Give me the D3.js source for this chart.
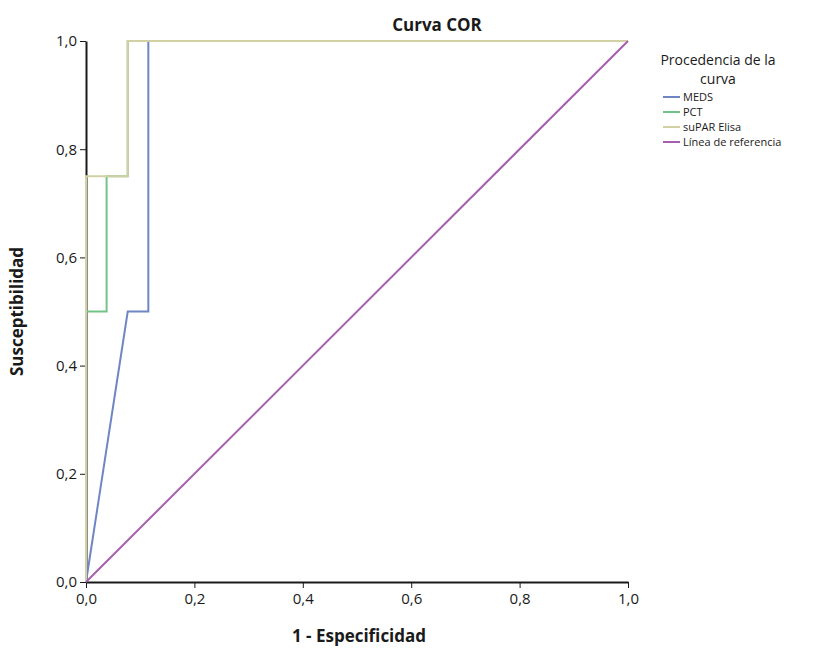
<!DOCTYPE html>
<html>
<head>
<meta charset="utf-8">
<script src="https://cdn.jsdelivr.net/npm/d3@7"></script>
<style>
  body { margin: 0; background: #fff; }
  svg text { font-family: "Open Sans", "DejaVu Sans", sans-serif; fill: #1a1a1a; }
</style>
</head>
<body>
<div id="chart"></div>
<script>
// ── Data ─────────────────────────────────────────────────────────
const seriesNames = ["MEDS", "PCT", "suPAR Elisa", "Línea de referencia"];
const medsFpr  = [0, 0.077, 0.115, 0.115, 1];
const medsTpr  = [0, 0.5,   0.5,   1,     1];
const pctFpr   = [0, 0,   0.038, 0.038, 0.077, 0.077, 1];
const pctTpr   = [0, 0.5, 0.5,   0.75,  0.75,  1,     1];
const suparFpr = [0, 0,    0.077, 0.077, 1];
const suparTpr = [0, 0.75, 0.75,  1,     1];
const refFpr   = [0, 1];
const refTpr   = [0, 1];
const tickVals = [0, 0.2, 0.4, 0.6, 0.8, 1.0];

const colors = {
  meds:  "#6f86c4",
  pct:   "#72c486",
  supar: "#d2d1a4",
  ref:   "#a65fae",
  axis:  "#1a1a1a",
};

const W = 823, H = 654;
const margin = { top: 41, left: 86, right: 195, bottom: 72 };
const width  = W - margin.left - margin.right;   // 542
const height = H - margin.top - margin.bottom;   // 541

const svg = d3.select("#chart").append("svg")
  .attr("width", W).attr("height", H);

const g = svg.append("g")
  .attr("transform", `translate(${margin.left},${margin.top})`);

const x = d3.scaleLinear().domain([0, 1]).range([0, width]);
const y = d3.scaleLinear().domain([0, 1]).range([height, 0]);
const fmt = d => d3.format(".1f")(d).replace(".", ",");

// ── Axes ────────────────────────────────────────────────────────
g.append("g")
  .attr("transform", `translate(0,${height})`)
  .call(d3.axisBottom(x).tickValues(tickVals).tickFormat(fmt).tickSize(6).tickSizeOuter(0))
  .call(a => a.select(".domain").attr("stroke", colors.axis).attr("stroke-width", 2))
  .call(a => a.selectAll(".tick line").attr("stroke", colors.axis))
  .call(a => a.selectAll("text").style("font-size", "15px").attr("dy", "0.85em"));

g.append("g")
  .call(d3.axisLeft(y).tickValues(tickVals).tickFormat(fmt).tickSize(6).tickSizeOuter(0))
  .call(a => a.select(".domain").attr("stroke", colors.axis).attr("stroke-width", 2))
  .call(a => a.selectAll(".tick line").attr("stroke", colors.axis))
  .call(a => a.selectAll("text").style("font-size", "15px"));

// ── Curves ──────────────────────────────────────────────────────
const line = d3.line().x(d => x(d[0])).y(d => y(d[1]));
const curves = [
  { fpr: medsFpr,  tpr: medsTpr,  color: colors.meds },
  { fpr: pctFpr,   tpr: pctTpr,   color: colors.pct },
  { fpr: suparFpr, tpr: suparTpr, color: colors.supar },
  { fpr: refFpr,   tpr: refTpr,   color: colors.ref },
];

curves.forEach(c => {
  g.append("path")
    .datum(c.fpr.map((f, i) => [f, c.tpr[i]]))
    .attr("fill", "none")
    .attr("stroke", c.color)
    .attr("stroke-width", 2)
    .attr("d", line);
});

// ── Titles ──────────────────────────────────────────────────────
svg.append("text")
  .attr("x", 437).attr("y", 31)
  .attr("text-anchor", "middle")
  .style("font-size", "17px").style("font-weight", "700")
  .text("Curva COR");

svg.append("text")
  .attr("x", margin.left + width / 2 + 2).attr("y", 642)
  .attr("text-anchor", "middle")
  .style("font-size", "17px").style("font-weight", "700")
  .text("1 - Especificidad");

svg.append("text")
  .attr("transform", `translate(23,${margin.top + height / 2}) rotate(-90)`)
  .attr("text-anchor", "middle")
  .style("font-size", "17px").style("font-weight", "700")
  .text("Susceptibilidad");

// ── Legend ──────────────────────────────────────────────────────
const leg = svg.append("g").attr("transform", "translate(718,0)");
leg.append("text").attr("y", 65).attr("text-anchor", "middle")
  .style("font-size", "14px").text("Procedencia de la");
leg.append("text").attr("y", 84).attr("text-anchor", "middle")
  .style("font-size", "14px").text("curva");

seriesNames.forEach((name, i) => {
  const yy = 97 + i * 15;
  leg.append("line")
    .attr("x1", -55).attr("x2", -38).attr("y1", yy).attr("y2", yy)
    .attr("stroke", curves[i].color).attr("stroke-width", 2);
  leg.append("text")
    .attr("x", -35).attr("y", yy).attr("dy", "0.35em")
    .style("font-size", "11px")
    .text(name);
});
</script>
</body>
</html>
